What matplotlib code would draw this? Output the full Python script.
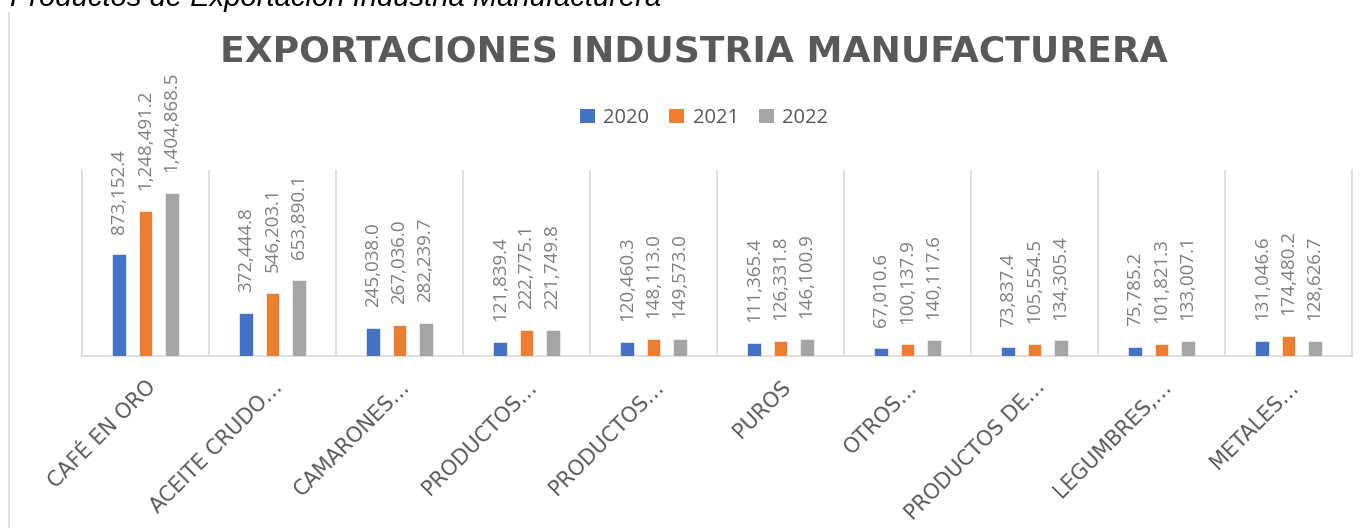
import matplotlib
matplotlib.use("Agg")
import matplotlib.pyplot as plt
import numpy as np
from matplotlib.lines import Line2D
from matplotlib.patches import Patch

categories = ["CAFÉ EN ORO", "ACEITE CRUDO…", "CAMARONES…", "PRODUCTOS…", "PRODUCTOS…",
              "PUROS", "OTROS…", "PRODUCTOS DE…", "LEGUMBRES,…", "METALES…"]
years = ["2020", "2021", "2022"]
v2020 = [873152.4, 372444.8, 245038.0, 121839.4, 120460.3, 111365.4, 67010.6, 73837.4, 75785.2, 131046.6]
v2021 = [1248491.2, 546203.1, 267036.0, 222775.1, 148113.0, 126331.8, 100137.9, 105554.5, 101821.3, 174480.2]
v2022 = [1404868.5, 653890.1, 282239.7, 221749.8, 149573.0, 146100.9, 140117.6, 134305.4, 133007.1, 128626.7]
series = [v2020, v2021, v2022]
colors = ["#4472C4", "#ED7D31", "#A5A5A5"]

W, H = 1369, 528
fig = plt.figure(figsize=(W / 100, H / 100), dpi=100)
ax = fig.add_axes([82 / W, 1 - 356 / H, (1352 - 82) / W, (356 - 170) / H])

x = np.arange(len(categories))
width = 0.11
offs = [-0.205, 0.0, 0.205]
for vals, c, o in zip(series, colors, offs):
    bars = ax.bar(x + o, vals, width, color=c, edgecolor="white", linewidth=0.4, zorder=3)
    for b, v in zip(bars, vals):
        ax.annotate(f"{v:,.1f}", (b.get_x() + b.get_width() / 2, b.get_height()),
                    xytext=(0, 15), textcoords="offset points", rotation=90,
                    ha="center", va="bottom", fontsize=13.5, color="#7F7F7F",
                    family="Open Sans", annotation_clip=False)

ax.set_xlim(-0.5, len(categories) - 0.5)
ax.set_ylim(0, 1.6e6)
ax.set_yticks([])
ax.set_xticks(x)
ax.set_xticklabels(categories, rotation=45, ha="right", rotation_mode="anchor",
                   fontsize=15, color="#595959", family="DejaVu Sans")
ax.tick_params(axis="x", length=0, pad=15)
ax.set_xticks(np.arange(-0.5, len(categories), 1), minor=True)
ax.tick_params(axis="x", which="minor", length=0)
ax.grid(axis="x", which="minor", color="#D9D9D9", linewidth=1.2, zorder=0)
ax.set_axisbelow(True)
ax.spines["top"].set_visible(False)
for s in ["left", "right", "bottom"]:
    ax.spines[s].set_color("#D9D9D9")
    ax.spines[s].set_linewidth(1.2)

handles = [Patch(facecolor=c, edgecolor="none") for c in colors]
fig.legend(handles, years, loc="center", bbox_to_anchor=(704 / W, 1 - 118 / H), ncol=3,
           frameon=False, prop={"family": "Open Sans", "size": 14.5}, labelcolor="#595959",
           handlelength=0.75, handleheight=0.75, handletextpad=0.4, columnspacing=1.0)

fig.text(694 / W, 1 - 51 / H, "EXPORTACIONES INDUSTRIA MANUFACTURERA", ha="center", va="center",
         fontsize=26, fontweight="bold", color="#595959", family="DejaVu Sans")

fig.text(10 / W, 1 - 6 / H, "Productos de Exportación Industria Manufacturera", ha="left",
         va="baseline", fontsize=21, style="italic", color="black", family="Liberation Sans")

fig.add_artist(Line2D([9 / W, 9 / W], [0, 1 - 13 / H], color="#D9D9D9", linewidth=1.2,
                      transform=fig.transFigure))

fig.savefig("out.png", dpi=100)
